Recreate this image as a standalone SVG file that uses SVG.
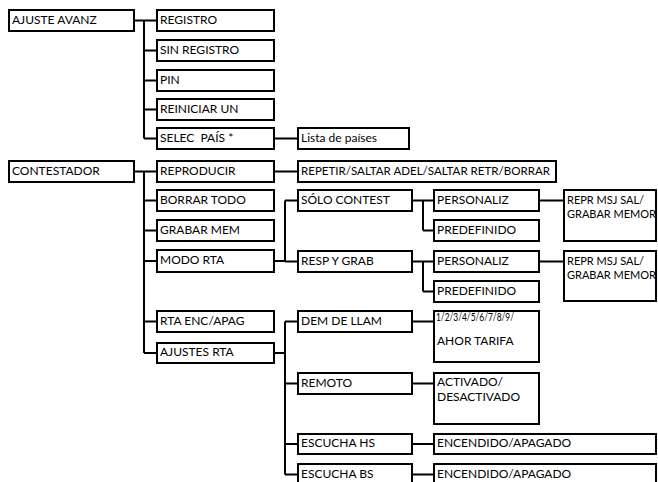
<svg xmlns="http://www.w3.org/2000/svg" width="658" height="482" viewBox="0 0 658 482">
<style>
rect{fill:#fff;stroke:#000;stroke-width:2}
text{font-family:Lato,"Liberation Sans",sans-serif;font-size:12px;fill:#000}
.s{font-size:12px}
.d{font-size:11px}
.r{font-size:11px}
#connectors path{fill:none;stroke:#000;stroke-width:2}
</style>
<rect x="0" y="0" width="658" height="482" style="stroke:none"/>
<g id="connectors">
<path d="M135 20.5H144M144 20.5V138.5M144 20.5H156M144 50.5H156M144 80.5H156M144 109.5H156M144 138.5H156"/>
<path d="M275 138.5H297"/>
<path d="M135 171.5H144M144 171.5V353M144 171.5H156M144 200.5H156M144 230.5H156M144 261H156M144 321.5H156M144 353H156"/>
<path d="M275 171.5H297"/>
<path d="M275 261H285M285 200.5V261.5M285 200.5H297M285 261.5H297"/>
<path d="M413 200.5H423M423 200.5V230.5M423 200.5H433M423 230.5H433"/>
<path d="M540 200.5H563"/>
<path d="M413 261.5H423M423 261.5V291.5M423 261.5H433M423 291.5H433"/>
<path d="M540 261.5H563"/>
<path d="M275 353H285M285 321.5V474.5M285 321.5H297M285 383.5H297M285 444H297M285 474.5H297"/>
<path d="M413 321.5H433M413 383.5H433M413 444H433M413 474.5H433"/>
</g>
<g id="n-ajuste"><rect x="9" y="10" width="125" height="21"/><text x="12" y="24">AJUSTE AVANZ</text></g>
<g id="n-registro"><rect x="157" y="10" width="117" height="21"/><text x="160" y="24">REGISTRO</text></g>
<g id="n-sinregistro"><rect x="157" y="40" width="117" height="21"/><text x="160" y="54">SIN REGISTRO</text></g>
<g id="n-pin"><rect x="157" y="70" width="117" height="21"/><text x="160" y="84">PIN</text></g>
<g id="n-reiniciar"><rect x="157" y="99" width="117" height="21"/><text x="160" y="113">REINICIAR UN</text></g>
<g id="n-selec"><rect x="157" y="128" width="117" height="21"/><text x="160" y="142" xml:space="preserve">SELEC  PAÍS *</text></g>
<g id="n-lista"><rect x="298" y="128" width="111" height="21"/><text class="s" x="301" y="142">Lista de países</text></g>
<g id="n-contestador"><rect x="9" y="161" width="125" height="21"/><text x="12" y="175">CONTESTADOR</text></g>
<g id="n-reproducir"><rect x="157" y="161" width="117" height="21"/><text x="160" y="175">REPRODUCIR</text></g>
<g id="n-repetir"><rect x="298" y="161" width="258" height="21"/><text x="301" y="175" textLength="249" lengthAdjust="spacingAndGlyphs">REPETIR/SALTAR ADEL/SALTAR RETR/BORRAR</text></g>
<g id="n-borrar"><rect x="157" y="190" width="117" height="21"/><text x="160" y="204">BORRAR TODO</text></g>
<g id="n-solo"><rect x="298" y="190" width="114" height="21"/><text x="301" y="204">SÓLO CONTEST</text></g>
<g id="n-pers1"><rect x="434" y="190" width="105" height="21"/><text x="437" y="204">PERSONALIZ</text></g>
<g id="n-repr1"><rect x="564" y="190" width="92" height="51"/><text class="r" x="567" y="204">REPR MSJ SAL/</text><text class="r" x="567" y="218">GRABAR MEMOR</text></g>
<g id="n-grabar"><rect x="157" y="220" width="117" height="21"/><text x="160" y="234">GRABAR MEM</text></g>
<g id="n-pred1"><rect x="434" y="220" width="105" height="21"/><text x="437" y="234">PREDEFINIDO</text></g>
<g id="n-modo"><rect x="157" y="250" width="117" height="22"/><text x="160" y="264">MODO RTA</text></g>
<g id="n-resp"><rect x="298" y="251" width="114" height="21"/><text x="301" y="265">RESP Y GRAB</text></g>
<g id="n-pers2"><rect x="434" y="251" width="105" height="21"/><text x="437" y="265">PERSONALIZ</text></g>
<g id="n-repr2"><rect x="564" y="251" width="92" height="50"/><text class="r" x="567" y="265">REPR MSJ SAL/</text><text class="r" x="567" y="279">GRABAR MEMOR</text></g>
<g id="n-pred2"><rect x="434" y="281" width="105" height="21"/><text x="437" y="295">PREDEFINIDO</text></g>
<g id="n-rtaenc"><rect x="157" y="311" width="117" height="21"/><text x="160" y="325">RTA ENC/APAG</text></g>
<g id="n-dem"><rect x="298" y="311" width="114" height="21"/><text x="301" y="325">DEM DE LLAM</text></g>
<g id="n-tarifa"><rect x="434" y="311" width="105" height="51"/><text class="d" x="436" y="321" textLength="78" lengthAdjust="spacingAndGlyphs">1/2/3/4/5/6/7/8/9/</text><text x="437" y="345">AHOR TARIFA</text></g>
<g id="n-ajustesrta"><rect x="157" y="343" width="117" height="20"/><text x="160" y="356">AJUSTES RTA</text></g>
<g id="n-remoto"><rect x="298" y="373" width="114" height="21"/><text x="301" y="387">REMOTO</text></g>
<g id="n-activado"><rect x="434" y="373" width="105" height="51"/><text x="437" y="386">ACTIVADO/</text><text x="437" y="401">DESACTIVADO</text></g>
<g id="n-eschs"><rect x="298" y="434" width="114" height="20"/><text x="301" y="447">ESCUCHA HS</text></g>
<g id="n-enc1"><rect x="434" y="434" width="222" height="20"/><text x="437" y="447">ENCENDIDO/APAGADO</text></g>
<g id="n-escbs"><rect x="298" y="464" width="114" height="24"/><text x="301" y="478">ESCUCHA BS</text></g>
<g id="n-enc2"><rect x="434" y="464" width="222" height="24"/><text x="437" y="478">ENCENDIDO/APAGADO</text></g>
</svg>
